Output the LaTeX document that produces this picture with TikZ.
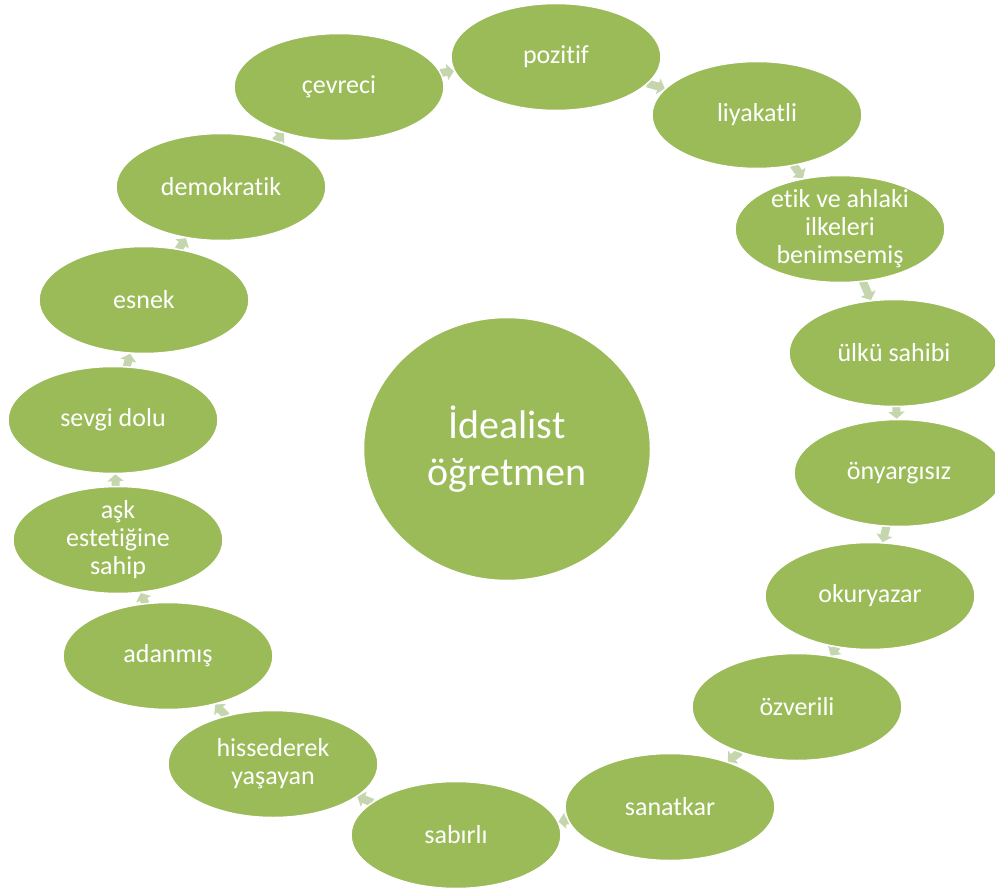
\documentclass[tikz,border=0pt]{standalone}
\usepackage{fontspec}
\setmainfont{Carlito}[Ligatures=NoCommon,RawFeature=-liga]
\usetikzlibrary{shapes.geometric,arrows.meta}
\definecolor{ellgreen}{HTML}{9BBB59}
\definecolor{arrgreen}{HTML}{C5D6AE}
\pgfdeclarelayer{bg}
\pgfsetlayers{bg,main}
\begin{document}
\begin{tikzpicture}[x=1pt,y=1pt,
 ell/.style={ellipse, fill=ellgreen, draw=white, line width=1.5pt, minimum width=210pt, minimum height=107pt, inner sep=0pt},
 hub/.style={ellipse, fill=ellgreen, draw=white, line width=1.5pt, minimum width=287pt, minimum height=263pt, inner sep=0pt},
 lbl/.style={text=white, align=center, font=\fontsize{26}{28}\selectfont, inner sep=0pt},
 hublbl/.style={text=white, align=center, font=\fontsize{40}{47}\selectfont, inner sep=0pt},
 conn/.style={draw=arrgreen, line width=8pt, -{Triangle[width=16pt,length=7pt]}, shorten <=-1pt, shorten >=0pt}
]
\useasboundingbox (0,0) rectangle (995,-890);

\node[hub] (hub) at (507,-449) {};
\node[hublbl] (hubt) at (hub) {İdealist\\öğretmen};

\node[ell] (pozitif) at (556,-57) {};
\node[ell] (liyakatli) at (757,-115) {};
\node[ell] (etik) at (840,-229) {};
\node[ell] (ulku) at (894,-353) {};
\node[ell] (onyargi) at (899,-473) {};
\node[ell] (okur) at (870,-596) {};
\node[ell] (ozveri) at (797,-707) {};
\node[ell] (sanat) at (670,-807) {};
\node[ell] (sabir) at (456,-835) {};
\node[ell] (hisse) at (273,-764) {};
\node[ell] (adan) at (168,-656) {};
\node[ell] (ask) at (118,-540) {};
\node[ell] (sevgi) at (113,-420) {};
\node[ell] (esnek) at (144,-300) {};
\node[ell] (demo) at (221,-187) {};
\node[ell] (cevre) at (339,-87) {};

\node[lbl] (tpozitif) at (pozitif) {pozitif};
\node[lbl] (tliyakatli) at (liyakatli) {liyakatli};
\node[lbl] (tetik) at (etik) {etik ve ahlaki\\ilkeleri\\benimsemiş};
\node[lbl] (tulku) at (ulku) {ülkü sahibi};
\node[lbl] (tonyargi) at (onyargi) {önyargısız};
\node[lbl] (tokur) at (okur) {okuryazar};
\node[lbl] (tozveri) at (ozveri) {özverili};
\node[lbl] (tsanat) at (sanat) {sanatkar};
\node[lbl] (tsabir) at (sabir) {sabırlı};
\node[lbl] (thisse) at (hisse) {hissederek\\yaşayan};
\node[lbl] (tadan) at (adan) {adanmış};
\node[lbl] (task) at (ask) {aşk\\estetiğine\\sahip};
\node[lbl] (tsevgi) at (sevgi) {sevgi dolu};
\node[lbl] (tesnek) at (esnek) {esnek};
\node[lbl] (tdemo) at (demo) {demokratik};
\node[lbl] (tcevre) at (cevre) {çevreci};

\begin{pgfonlayer}{bg}
\draw[conn] (cevre) -- (pozitif);
\draw[conn] (pozitif) -- (liyakatli);
\draw[conn] (liyakatli) -- (etik);
\draw[conn] (etik) -- (ulku);
\draw[conn] (ulku) -- (onyargi);
\draw[conn] (onyargi) -- (okur);
\draw[conn] (okur) -- (ozveri);
\draw[conn] (ozveri) -- (sanat);
\draw[conn] (sanat) -- (sabir);
\draw[conn] (sabir) -- (hisse);
\draw[conn] (hisse) -- (adan);
\draw[conn] (adan) -- (ask);
\draw[conn] (ask) -- (sevgi);
\draw[conn] (sevgi) -- (esnek);
\draw[conn] (esnek) -- (demo);
\draw[conn] (demo) -- (cevre);
\end{pgfonlayer}
\end{tikzpicture}
\end{document}
